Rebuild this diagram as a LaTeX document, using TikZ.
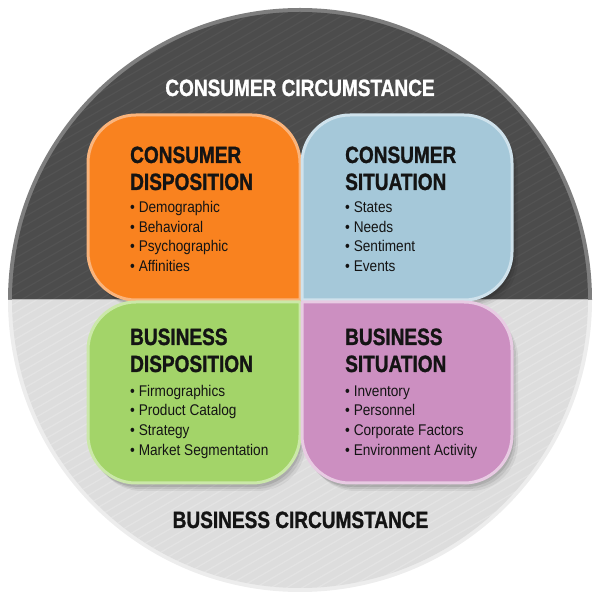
\documentclass[tikz,border=0pt]{standalone}
\usepackage{fontspec}
\setmainfont{Liberation Sans}
\newfontfamily\headfont[FakeStretch=0.81,FakeBold=1.2]{Liberation Sans Bold}
\newfontfamily\itemfont[FakeStretch=0.88]{Liberation Sans}
\definecolor{rimtop}{HTML}{7E7E7E}
\definecolor{topfill}{HTML}{4C4C4C}
\definecolor{rimbot}{HTML}{EDEDED}
\definecolor{botfill}{HTML}{DDDDDD}
\definecolor{orF}{HTML}{F9821F}
\definecolor{orB}{HTML}{FAB47C}
\definecolor{blF}{HTML}{A5C8D9}
\definecolor{blB}{HTML}{CFE2EC}
\definecolor{grF}{HTML}{A3D469}
\definecolor{grB}{HTML}{CBE8A9}
\definecolor{puF}{HTML}{CC8FC1}
\definecolor{puB}{HTML}{E8CBE3}
\definecolor{ink}{HTML}{141414}
\def\orpath{(300,300) -- (136,300) arc (270:180:48) -- (88,437) arc (180:90:48) -- (252,485) arc (90:0:48) -- cycle}
\def\blpath{(302,300) -- (302,437) arc (180:90:48) -- (464,485) arc (90:0:48) -- (512,348) arc (0:-90:48) -- cycle}
\def\grpath{(300,298) -- (136,298) arc (90:180:48) -- (88,165) arc (180:270:48) -- (252,117) arc (270:360:48) -- cycle}
\def\pupath{(302,298) -- (464,298) arc (90:0:48) -- (512,165) arc (0:-90:48) -- (350,117) arc (270:180:48) -- cycle}
\tikzset{
  boxline/.style={line width=3pt, line join=round},
  shd/.style={fill=black, opacity=#1},
  head/.style={font=\headfont\fontsize{23.5}{27}\selectfont, text=ink, anchor=base west, inner sep=0pt},
  item/.style={font=\itemfont\fontsize{15.5}{19}\selectfont, text=ink, anchor=base west, inner sep=0pt},
  circ/.style={font=\headfont\fontsize{23.5}{27}\selectfont, anchor=base, inner sep=0pt},
}
\begin{document}
\begin{tikzpicture}[x=1pt,y=1pt]
\useasboundingbox (0,0) rectangle (600,600);
% big circle
\fill[rimtop] (8,300) arc (180:0:292) -- cycle;
\fill[topfill] (12,300) arc (180:0:288) -- cycle;
\fill[rimbot] (8,300) arc (180:360:292) -- cycle;
\fill[botfill] (12,300) arc (180:360:288) -- cycle;
\begin{scope}
  \clip (12,300) arc (180:0:288) -- cycle;
  \foreach \i in {-45,...,75} {
    \draw[white, opacity=0.04, line width=1.2pt] (0,\i*9) -- (600,\i*9+346);
  }
\end{scope}
\begin{scope}
  \clip (12,300) arc (180:360:288) -- cycle;
  \foreach \i in {-45,...,75} {
    \draw[white, opacity=0.2, line width=1.2pt] (0,\i*9) -- (600,\i*9+346);
  }
\end{scope}
\draw[white, opacity=0.5, line width=1pt] (12,300) -- (588,300);
% shadows
\foreach \dx/\dy/\op in {6/-8/0.06, 4/-6/0.08, 2/-4/0.10} {
  \fill[shd=\op, shift={(\dx,\dy)}] \orpath;
  \fill[shd=\op, shift={(\dx,\dy)}] \blpath;
  \fill[shd=\op, shift={(\dx,\dy)}] \grpath;
  \fill[shd=\op, shift={(\dx,\dy)}] \pupath;
}
% boxes
\filldraw[boxline, fill=orF, draw=orB] \orpath;
\filldraw[boxline, fill=grF, draw=grB] \grpath;
\filldraw[boxline, fill=blF, draw=blB] \blpath;
\filldraw[boxline, fill=puF, draw=puB] \pupath;
% circle labels
\node[circ, text=white] (cc) at (300,504) {CONSUMER CIRCUMSTANCE};
\node[circ, text=ink] (bc) at (300.5,72) {BUSINESS CIRCUMSTANCE};
% consumer disposition
\node[head] (cd1) at (130,437) {CONSUMER};
\node[head] (cd2) at (130,410) {DISPOSITION};
\node[item] (cd3) at (130,387) {• Demographic};
\node[item] (cd4) at (130,367) {• Behavioral};
\node[item] (cd5) at (130,348) {• Psychographic};
\node[item] (cd6) at (130,328) {• Affinities};
% consumer situation
\node[head] (cs1) at (345,437) {CONSUMER};
\node[head] (cs2) at (345,410) {SITUATION};
\node[item] (cs3) at (345,387) {• States};
\node[item] (cs4) at (345,367) {• Needs};
\node[item] (cs5) at (345,348) {• Sentiment};
\node[item] (cs6) at (345,328) {• Events};
% business disposition
\node[head] (bd1) at (130,255) {BUSINESS};
\node[head] (bd2) at (130,228) {DISPOSITION};
\node[item] (bd3) at (130,203) {• Firmographics};
\node[item] (bd4) at (130,184) {• Product Catalog};
\node[item] (bd5) at (130,164) {• Strategy};
\node[item] (bd6) at (130,144) {• Market Segmentation};
% business situation
\node[head] (bs1) at (345,255) {BUSINESS};
\node[head] (bs2) at (345,228) {SITUATION};
\node[item] (bs3) at (345,203) {• Inventory};
\node[item] (bs4) at (345,184) {• Personnel};
\node[item] (bs5) at (345,164) {• Corporate Factors};
\node[item] (bs6) at (345,144) {• Environment Activity};
\end{tikzpicture}
\end{document}
